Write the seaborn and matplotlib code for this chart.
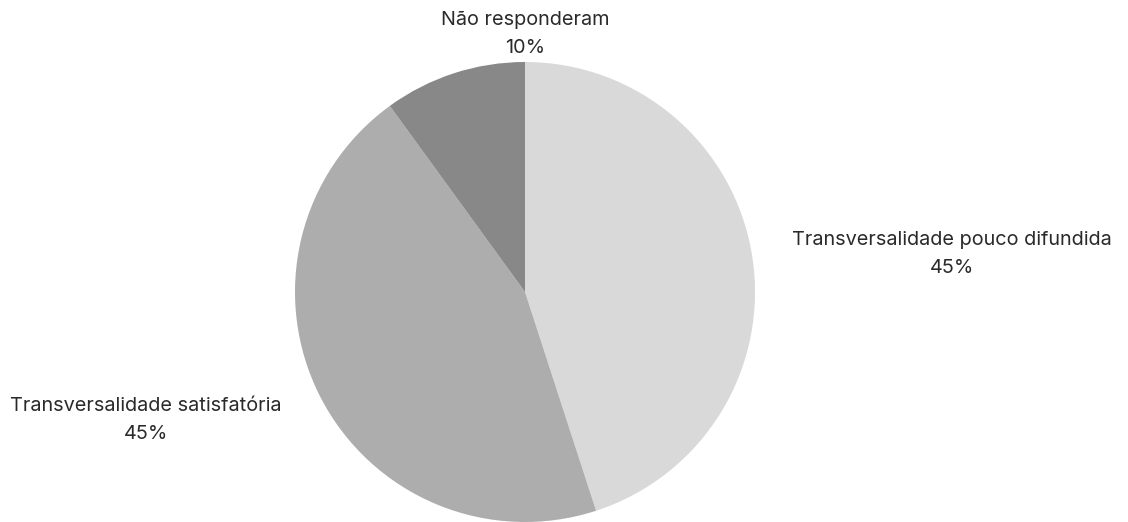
import matplotlib
matplotlib.use("Agg")
import matplotlib.pyplot as plt
import seaborn as sns

categories = ["Transversalidade pouco difundida", "Transversalidade satisfatória", "Não responderam"]
values = [45, 45, 10]
colors = ["#d9d9d9", "#adadad", "#888888"]

sns.set_theme(style="white")
plt.rcParams['font.family'] = ['Inter', 'DejaVu Sans']

W, H = 1128, 522
fig = plt.figure(figsize=(W / 100, H / 100), dpi=100)
ax = fig.add_axes([0, 0, 1, 1])

ax.pie(values, colors=colors, startangle=90, counterclock=False,
       center=(525, H - 292), radius=230, frame=True,
       wedgeprops=dict(linewidth=0))
ax.set_xlim(0, W)
ax.set_ylim(0, H)
ax.set_aspect('equal')
ax.axis('off')

label_pos = [(952, H - 254), (146, H - 420), (525, H - 34)]
for cat, val, (x, y) in zip(categories, values, label_pos):
    ax.text(x, y, f"{cat}\n{val}%", ha='center', va='center', fontsize=14.3,
            color="#2a2a2a", linespacing=1.7)

fig.savefig("out.png", dpi=100, facecolor="white")
